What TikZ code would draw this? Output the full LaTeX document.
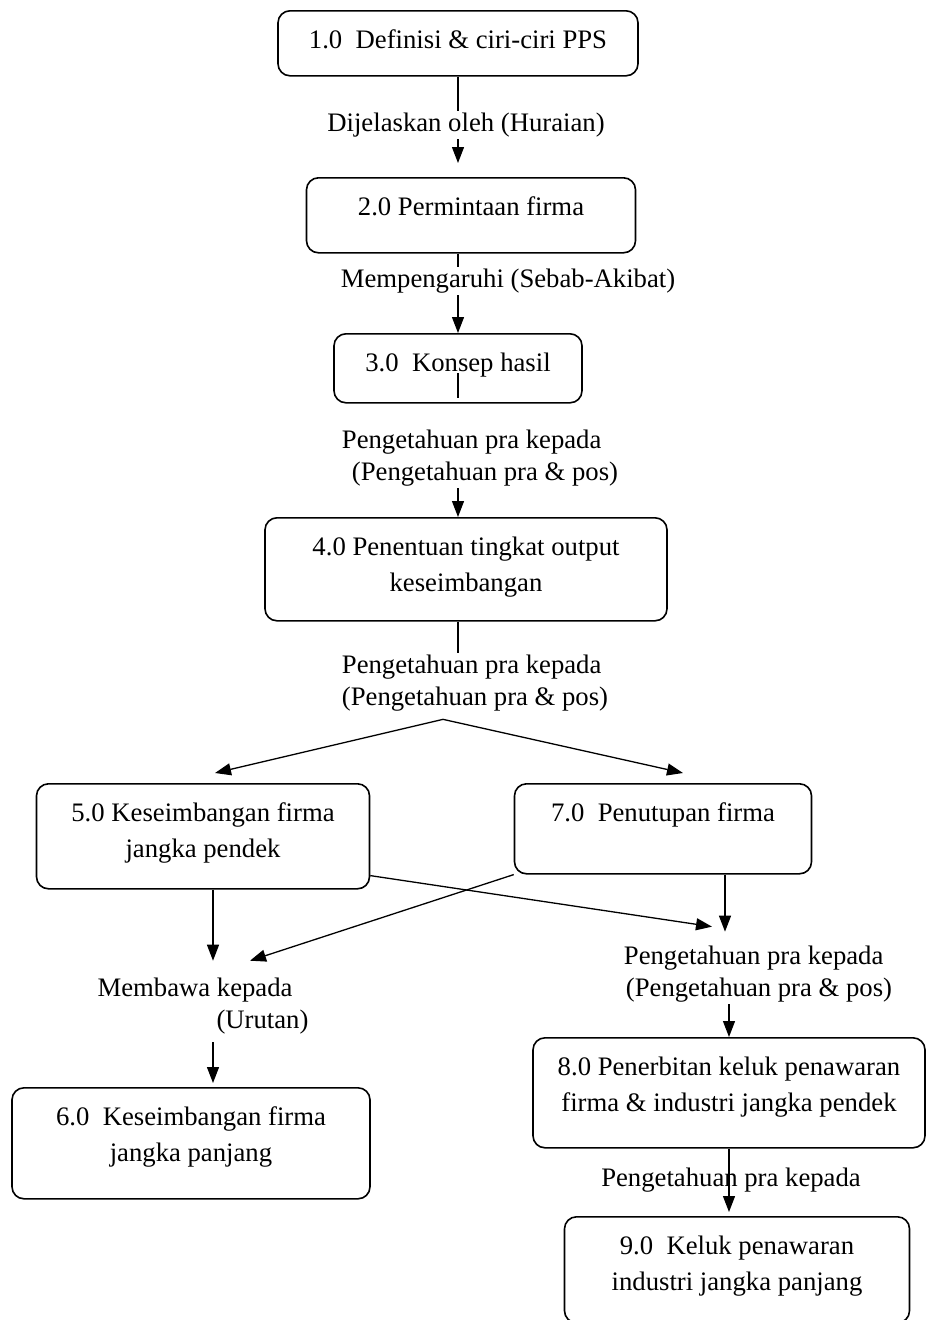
\documentclass[tikz,border=0pt]{standalone}
\usepackage{fontspec}
\setmainfont{Liberation Serif}
\usetikzlibrary{arrows.meta}

\begin{document}
\begin{tikzpicture}[x=1pt,y=-1pt]

      % Styles: rounded boxes (text sits at the top), free labels, plain and arrowed lines
      \tikzstyle{box}=[draw, line width=1.6pt, rounded corners=12pt, anchor=north, align=center, inner xsep=4pt, inner ysep=18pt, text height=20pt, font=\fontsize{26.7}{35.5}\selectfont]
      \tikzstyle{twoline}=[text height=55.5pt]   % the baseline of a two line box is its last line
      \tikzstyle{lbl}=[inner sep=2pt, font=\fontsize{26.7}{32}\selectfont]
      \tikzstyle{conn}=[line width=1.3pt]
      \tikzstyle{arr}=[conn, -{Triangle[length=16pt,width=12pt]}]

      \useasboundingbox (0,0) rectangle (931,1320);

      % Boxes
      \node[box, minimum width=360, text depth=9] (b1) at (458,10) {1.0\ \ Definisi \& ciri-ciri PPS};
      \node[box, minimum width=329, text depth=19] (b2) at (471,177) {2.0 Permintaan firma};
      \node[box, minimum width=248, text depth=13] (b3) at (458,333) {3.0\ \ Konsep hasil};
      \node[box, twoline, minimum width=402, text depth=11.5] (b4) at (466,517) {4.0 Penentuan tingkat output\\keseimbangan};
      \node[box, twoline, minimum width=333, text depth=13.5] (b5) at (203,783) {5.0 Keseimbangan firma\\jangka pendek};
      \node[box, minimum width=297, text depth=34] (b7) at (663,783) {7.0\ \ Penutupan firma};
      \node[box, twoline, minimum width=358, text depth=19.5] (b6) at (191,1087) {6.0\ \ Keseimbangan firma\\jangka panjang};
      \node[box, twoline, minimum width=392, text depth=18.5] (b8) at (729,1037) {8.0 Penerbitan keluk penawaran\\firma \& industri jangka pendek};
      \node[box, twoline, minimum width=345, text depth=14.5] (b9) at (737,1216) {9.0\ \ Keluk penawaran\\industri jangka panjang};

      % Labels on the links
      \node[lbl] (l1) at (466,125) {Dijelaskan oleh (Huraian)};
      \node[lbl] (l2) at (508,281) {Mempengaruhi (Sebab-Akibat)};
      \node[lbl, align=left] (l3) at (480,458) {Pengetahuan pra kepada\\\hspace*{10pt}(Pengetahuan pra \& pos)};
      \node[lbl, align=left] (l4) at (475,683) {Pengetahuan pra kepada\\(Pengetahuan pra \& pos)};
      \node[lbl, align=left] (l5) at (203,1006) {Membawa kepada\\\hspace*{119pt}(Urutan)};
      \node[lbl, align=left] (l6) at (758,974) {Pengetahuan pra kepada\\\hspace*{2pt}(Pengetahuan pra \& pos)};
      \node[lbl] (l7) at (731,1180) {Pengetahuan pra kepada};

      % Top chain
      \draw[conn] (b1.south) -- (b1.south |- l1.north);
      \draw[arr, shorten >=14pt] (b1.south |- l1.south) -- (b2.north -| b1.south);
      \draw[conn] (b2.south -| b1.south) -- (l2.north -| b1.south);
      \draw[arr] (l2.south -| b1.south) -- (b3.north);
      \draw[conn] ([yshift=6pt]b3.south) -- ++(0,-25);   % short stub inside box 3
      \draw[arr] (l3.south -| b1.south) -- (b4.north -| b1.south);
      \draw[conn] (b4.south -| b1.south) -- (l4.north -| b1.south);

      % Split below label 4
      \coordinate (split) at ([xshift=-32pt,yshift=-6pt]l4.south);
      \draw[arr] (split) -- ([xshift=12pt,yshift=10pt]b5.north);
      \draw[arr] (split) -- ([xshift=20pt,yshift=10pt]b7.north);

      % Crossing links
      \draw[arr] ([xshift=10pt]b5.south) -- ([xshift=10pt,yshift=15pt]l5.north);
      \draw[arr] (b7.south west) -- ([xshift=47pt,yshift=15pt]l5.north);
      \draw[arr] ([yshift=14pt]b5.south east) -- ([xshift=-46pt,yshift=17pt]l6.north);
      \draw[arr] ([xshift=62pt]b7.south) -- ([xshift=-33pt,yshift=12pt]l6.north);

      % Lower links
      \draw[arr] ([xshift=10pt,yshift=-6pt]l5.south) -- ([xshift=22pt,yshift=4pt]b6.north);
      \draw[arr] (l6.south -| b8) -- (b8.north);
      \draw[arr, shorten >=4pt] (b8.south) -- (b8.south |- b9.north);

\end{tikzpicture}
\end{document}
